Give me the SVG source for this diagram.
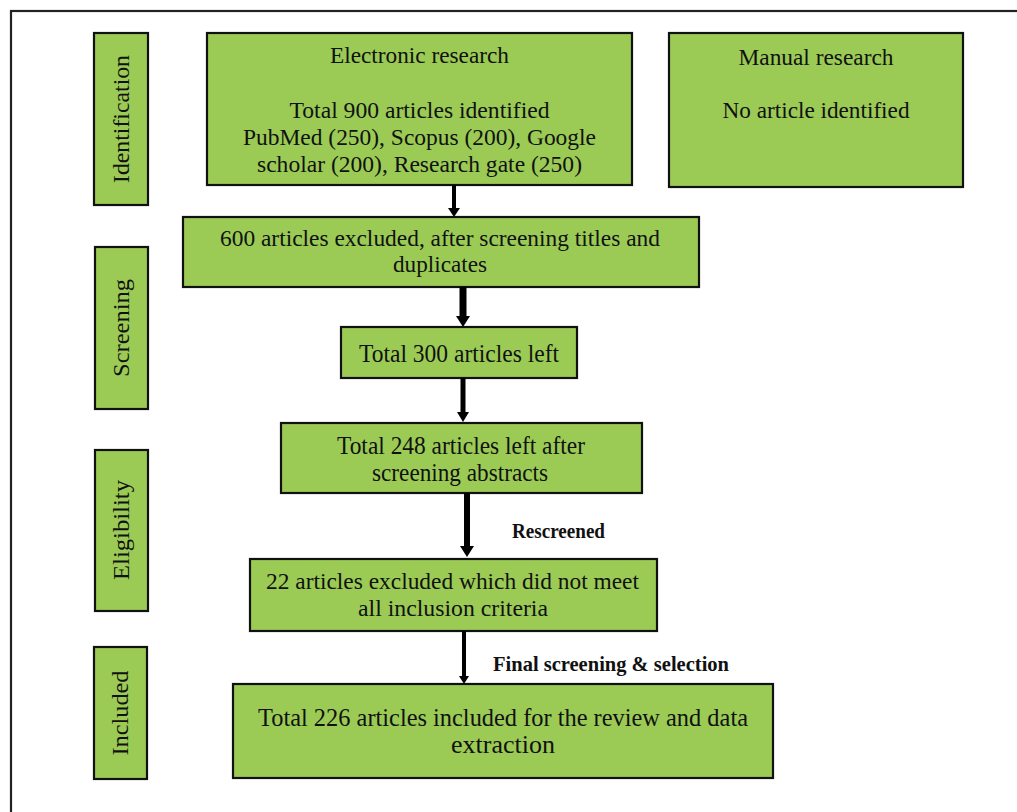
<svg xmlns="http://www.w3.org/2000/svg" width="1017" height="812" viewBox="0 0 1017 812">
<style>
.box{fill:#9bcb55;stroke:#111;stroke-width:2.2}
.t{font-family:"Liberation Serif","Times New Roman",serif;font-size:24px;fill:#111;text-anchor:middle}
.tl{font-size:25px}
.ts{font-size:23.5px}
.b{font-family:"Liberation Serif","Times New Roman",serif;font-size:21px;font-weight:bold;fill:#111}
.shaft{stroke:#000;fill:none}
.head{fill:#000}
</style>
<rect x="0" y="0" width="1017" height="812" fill="#fff"/>
<rect x="11" y="11" width="1030" height="830" fill="none" stroke="#222" stroke-width="2.2"/>

<g id="stage-identification">
<rect class="box" x="94" y="33" width="54" height="172"/>
<text class="t" transform="translate(129,119) rotate(-90)" textLength="128" lengthAdjust="spacingAndGlyphs">Identification</text>
</g>
<g id="stage-screening">
<rect class="box" x="95" y="247" width="53" height="162"/>
<text class="t" transform="translate(129,328) rotate(-90)" textLength="98" lengthAdjust="spacingAndGlyphs">Screening</text>
</g>
<g id="stage-eligibility">
<rect class="box" x="95" y="450" width="53" height="161"/>
<text class="t" transform="translate(129,530) rotate(-90)" textLength="100" lengthAdjust="spacingAndGlyphs">Eligibility</text>
</g>
<g id="stage-included">
<rect class="box" x="94" y="647" width="53" height="132"/>
<text class="t" transform="translate(128,713) rotate(-90)" textLength="85" lengthAdjust="spacingAndGlyphs">Included</text>
</g>

<g id="electronic">
<rect class="box" x="207" y="33" width="425" height="152"/>
<text class="t" x="419.5" y="63" textLength="179" lengthAdjust="spacingAndGlyphs">Electronic research</text>
<text class="t" x="419.5" y="118" textLength="260" lengthAdjust="spacingAndGlyphs">Total 900 articles identified</text>
<text class="t" x="419.5" y="145" textLength="353" lengthAdjust="spacingAndGlyphs">PubMed (250), Scopus (200), Google</text>
<text class="t" x="419.5" y="172" textLength="325" lengthAdjust="spacingAndGlyphs">scholar (200), Research gate (250)</text>
</g>
<g id="manual">
<rect class="box" x="669" y="33" width="294" height="154"/>
<text class="t" x="816" y="65" textLength="155" lengthAdjust="spacingAndGlyphs">Manual research</text>
<text class="t" x="816" y="118" textLength="187" lengthAdjust="spacingAndGlyphs">No article identified</text>
</g>
<g id="excluded600">
<rect class="box" x="183" y="217" width="516" height="70"/>
<text class="t" x="440" y="246" textLength="440" lengthAdjust="spacingAndGlyphs">600 articles excluded, after screening titles and</text>
<text class="t" x="440" y="272" textLength="94" lengthAdjust="spacingAndGlyphs">duplicates</text>
</g>
<g id="left300">
<rect class="box" x="341" y="327" width="236" height="51"/>
<text class="t tl" x="459" y="362" textLength="200" lengthAdjust="spacingAndGlyphs">Total 300 articles left</text>
</g>
<g id="left248">
<rect class="box" x="281" y="423" width="361" height="70"/>
<text class="t tl" x="461" y="454" textLength="248" lengthAdjust="spacingAndGlyphs">Total 248 articles left after</text>
<text class="t tl" x="460" y="481" textLength="176" lengthAdjust="spacingAndGlyphs">screening abstracts</text>
</g>
<g id="excluded22">
<rect class="box" x="250" y="559" width="407" height="72"/>
<text class="t ts" x="452.5" y="589" textLength="373" lengthAdjust="spacingAndGlyphs">22 articles excluded which did not meet</text>
<text class="t ts" x="453" y="616" textLength="190" lengthAdjust="spacingAndGlyphs">all inclusion criteria</text>
</g>
<g id="included226">
<rect class="box" x="233" y="684" width="540" height="94"/>
<text class="t tl" x="503" y="726" textLength="490" lengthAdjust="spacingAndGlyphs">Total 226 articles included for the review and data</text>
<text class="t tl" x="503" y="753" textLength="104" lengthAdjust="spacingAndGlyphs">extraction</text>
</g>

<g id="connectors">
<line class="shaft" x1="454" y1="185" x2="454" y2="210" stroke-width="4"/>
<polygon class="head" points="448,208 460,208 454,217"/>
<line class="shaft" x1="463" y1="287" x2="463" y2="318" stroke-width="7"/>
<polygon class="head" points="456,316 470,316 463,327"/>
<line class="shaft" x1="463" y1="378" x2="463" y2="414" stroke-width="5"/>
<polygon class="head" points="457,412 469,412 463,422"/>
<line class="shaft" x1="467" y1="493" x2="467" y2="548" stroke-width="6"/>
<polygon class="head" points="460,546 474,546 467,557"/>
<line class="shaft" x1="464" y1="631" x2="464" y2="678" stroke-width="4"/>
<polygon class="head" points="459,676 469,676 464,684"/>
<text class="b" x="512" y="538" textLength="93" lengthAdjust="spacingAndGlyphs">Rescreened</text>
<text class="b" x="493" y="671" textLength="236" lengthAdjust="spacingAndGlyphs">Final screening &amp; selection</text>
</g>
</svg>
